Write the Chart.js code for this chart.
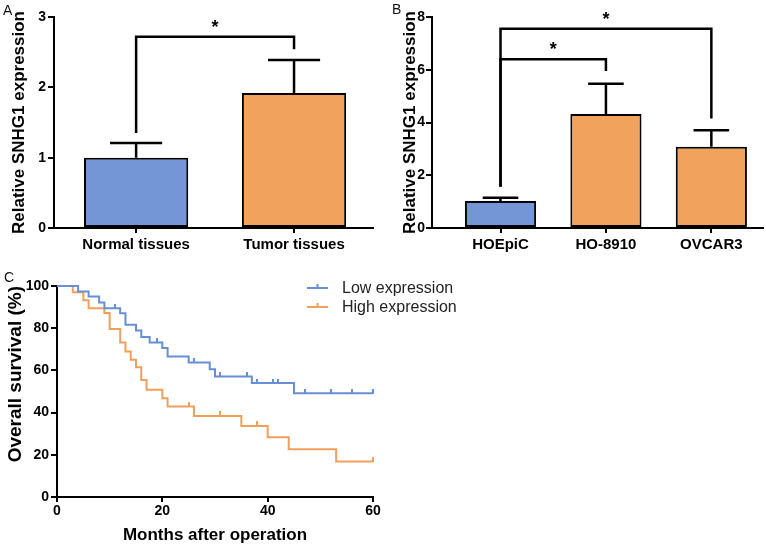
<!DOCTYPE html>
<html><head><meta charset="utf-8">
<script src="https://cdn.jsdelivr.net/npm/chart.js@4/dist/chart.umd.min.js"></script>
<style>
body{margin:0;background:#fff;width:766px;height:548px;position:relative;overflow:hidden;font-family:'Liberation Sans',Arial,sans-serif;}
canvas{position:absolute;}
.lbl{position:absolute;font-size:14px;color:#111;line-height:14px;z-index:2}
</style></head><body>
<canvas id="cA" width="380" height="256" style="left:0;top:0"></canvas>
<canvas id="cB" width="386" height="256" style="left:380px;top:0"></canvas>
<canvas id="cC" width="766" height="290" style="left:0;top:258px"></canvas>
<div class="lbl" style="left:3px;top:3px">A</div>
<div class="lbl" style="left:392px;top:2px">B</div>
<div class="lbl" style="left:4px;top:270px">C</div>
<script>
// ---------- data ----------
const categoriesA = ['Normal tissues', 'Tumor tissues'];
const valuesA = [1.0, 1.92];
const errorsA = [0.21, 0.47];
const bracketFromA = [0];
const bracketToA = [1];
const bracketLevelA = [2.72];
const bracketLeftEndA = [1.35];
const bracketRightEndA = [2.54];

const categoriesB = ['HOEpiC', 'HO-8910', 'OVCAR3'];
const valuesB = [1.02, 4.32, 3.08];
const errorsB = [0.13, 1.15, 0.63];
const bracketFromB = [0, 0];
const bracketToB = [1, 2];
const bracketLevelB = [6.4, 7.55];
const bracketLeftEndB = [1.56, 1.56];
const bracketRightEndB = [5.95, 4.15];

const lowTimes = [0, 4, 6, 8, 9, 12, 13, 15, 16, 17.6, 20, 21, 25, 29, 30, 37, 45, 60];
const lowSurv  = [100, 97.4, 95.0, 92.2, 89.5, 87.1, 81.6, 78.9, 75.8, 73.2, 70.6, 66.6, 63.7, 60.6, 57.1, 54.0, 49.2, 49.2];
const lowCensored = [11, 19, 26, 31, 36, 38, 41, 42, 47, 52, 56, 60];
const highTimes = [0, 3, 5, 6, 9, 10, 12, 13, 14, 15, 16, 17, 20, 21, 26, 35, 40, 44, 53, 60];
const highSurv  = [100, 97.0, 93.2, 89.5, 87.2, 79.6, 73.2, 69.0, 65.0, 61.5, 55.5, 50.8, 46.8, 42.9, 38.4, 33.7, 28.3, 22.6, 16.8, 16.8];
const highCensored = [25, 31, 38, 60];
const seriesNames = ['Low expression', 'High expression'];

// ---------- styles ----------
const FONT = "'Liberation Sans', Arial, sans-serif";
Chart.defaults.font.family = FONT;
Chart.defaults.color = '#000';
const BLUE_BAR = 'rgb(116,150,214)';
const ORANGE_BAR = 'rgb(241,163,94)';
const BLUE_LINE = 'rgb(104,142,214)';
const ORANGE_LINE = 'rgb(240,160,92)';

const errPlugin = {
  id: 'errBars',
  afterDatasetsDraw(chart, args, o) {
    const ctx = chart.ctx, ys = chart.scales.y, xs = chart.scales.x;
    const meta = chart.getDatasetMeta(0);
    ctx.save();
    ctx.strokeStyle = '#000'; ctx.lineWidth = 2.5; ctx.lineCap = 'butt'; ctx.lineJoin = 'miter';
    meta.data.forEach((bar, i) => {
      const yt = ys.getPixelForValue(o.values[i] + o.errors[i]);
      const half = bar.width / 4;
      ctx.beginPath();
      ctx.moveTo(bar.x, bar.y); ctx.lineTo(bar.x, yt);
      ctx.moveTo(bar.x - half, yt); ctx.lineTo(bar.x + half, yt);
      ctx.stroke();
    });
    ctx.fillStyle = '#000';
    ctx.font = 'bold 18px ' + FONT;
    ctx.textAlign = 'center'; ctx.textBaseline = 'alphabetic';
    o.from.forEach((f, k) => {
      const x1 = xs.getPixelForValue(f), x2 = xs.getPixelForValue(o.to[k]);
      const yl = ys.getPixelForValue(o.level[k]);
      ctx.beginPath();
      ctx.moveTo(x1, ys.getPixelForValue(o.leftEnd[k]));
      ctx.lineTo(x1, yl); ctx.lineTo(x2, yl);
      ctx.lineTo(x2, ys.getPixelForValue(o.rightEnd[k]));
      ctx.stroke();
      ctx.fillText('*', (x1 + x2) / 2, yl - 4);
    });
    ctx.restore();
  }
};

function axisGrid(len) {
  return { drawOnChartArea: false, color: '#000', lineWidth: 2, tickLength: len, offset: false };
}

function barChart(id, cats, vals, errs, colors, xmin, xmax, ymax, ystep, yWidth, titlePad, tickPad, padRight, barPct, br) {
  new Chart(document.getElementById(id), {
    type: 'bar',
    data: { datasets: [{
      data: vals.map((v, i) => ({ x: i, y: v })),
      backgroundColor: colors, borderColor: '#000', borderWidth: 2, borderSkipped: false,
      categoryPercentage: 1, barPercentage: barPct
    }]},
    options: {
      responsive: false, animation: false,
      layout: { padding: { top: 17, right: padRight, left: 0, bottom: 0 } },
      plugins: { legend: { display: false }, tooltip: { enabled: false },
        errBars: { values: vals, errors: errs, from: br[0], to: br[1], level: br[2], leftEnd: br[3], rightEnd: br[4] } },
      scales: {
        x: { type: 'linear', min: xmin, max: xmax, offset: false, bounds: 'ticks',
          afterFit: s => { s.height = 28; },
          afterBuildTicks: s => { s.ticks = cats.map((c, i) => ({ value: i })); },
          ticks: { callback: v => cats[v], font: { size: 15, weight: 'bold' }, padding: 3, maxRotation: 0, autoSkip: false },
          grid: axisGrid(5), border: { color: '#000', width: 2 } },
        y: { min: 0, max: ymax,
          afterFit: s => { s.width = yWidth; },
          ticks: { stepSize: ystep, font: { size: 14, weight: 'bold' }, padding: tickPad },
          grid: axisGrid(6), border: { color: '#000', width: 2 },
          title: { display: true, text: 'Relative SNHG1 expression', font: { size: 17, weight: 'bold' }, padding: { top: titlePad, bottom: 0 } } }
      }
    },
    plugins: [errPlugin]
  });
}

barChart('cA', categoriesA, valuesA, errorsA, [BLUE_BAR, ORANGE_BAR], -0.52, 1.5, 3, 1, 54, 9, 2, 7, 0.66,
  [bracketFromA, bracketToA, bracketLevelA, bracketLeftEndA, bracketRightEndA]);
barChart('cB', categoriesB, valuesB, errorsB, [BLUE_BAR, ORANGE_BAR, ORANGE_BAR], -0.65, 2.49, 8, 2, 52, 20, 1, 3, 0.675,
  [bracketFromB, bracketToB, bracketLevelB, bracketLeftEndB, bracketRightEndB]);

// ---------- survival ----------
function tickImg(color) {
  const c = document.createElement('canvas');
  c.width = 2; c.height = 9;
  const g = c.getContext('2d');
  g.fillStyle = color; g.fillRect(0, 0, 2, 5);
  return c;
}
function survAt(times, surv, t) {
  let s = surv[0];
  for (let i = 0; i < times.length; i++) if (times[i] <= t) s = surv[i];
  return s;
}
const kmLegend = {
  id: 'kmLegend',
  afterDraw(chart) {
    const ctx = chart.ctx, a = chart.chartArea;
    const rows = [[seriesNames[0], BLUE_LINE, 2], [seriesNames[1], ORANGE_LINE, 21]];
    ctx.save();
    ctx.font = '16px ' + FONT;
    ctx.textBaseline = 'middle'; ctx.textAlign = 'left';
    rows.forEach(([name, col, dy]) => {
      const y = a.top + dy, x0 = a.right - 66;
      ctx.strokeStyle = col; ctx.lineWidth = 2;
      ctx.beginPath(); ctx.moveTo(x0, y); ctx.lineTo(x0 + 21, y);
      ctx.moveTo(x0 + 10.5, y); ctx.lineTo(x0 + 10.5, y - 4); ctx.stroke();
      ctx.fillStyle = '#222';
      ctx.fillText(name, x0 + 35, y + 1);
    });
    ctx.restore();
  }
};

new Chart(document.getElementById('cC'), {
  type: 'line',
  data: { datasets: [
    { data: lowTimes.map((t, i) => ({ x: t, y: lowSurv[i] })), borderColor: BLUE_LINE, borderWidth: 2,
      stepped: 'before', pointRadius: 0, fill: false, clip: false },
    { data: highTimes.map((t, i) => ({ x: t, y: highSurv[i] })), borderColor: ORANGE_LINE, borderWidth: 2,
      stepped: 'before', pointRadius: 0, fill: false, clip: false },
    { data: lowCensored.map(t => ({ x: t, y: survAt(lowTimes, lowSurv, t) })), showLine: false,
      pointStyle: tickImg(BLUE_LINE), pointRadius: 3, clip: false },
    { data: highCensored.map(t => ({ x: t, y: survAt(highTimes, highSurv, t) })), showLine: false,
      pointStyle: tickImg(ORANGE_LINE), pointRadius: 3, clip: false }
  ]},
  options: {
    responsive: false, animation: false,
    layout: { padding: { top: 28, right: 393, left: 0, bottom: 0 } },
    plugins: { legend: { display: false }, tooltip: { enabled: false } },
    scales: {
      x: { type: 'linear', min: 0, max: 60,
        afterFit: s => { s.height = 51; },
        ticks: { stepSize: 20, font: { size: 14, weight: 'bold' }, padding: 1, maxRotation: 0 },
        grid: axisGrid(5), border: { color: '#000', width: 2 },
        title: { display: true, text: 'Months after operation', font: { size: 17, weight: 'bold' }, padding: { top: 0, bottom: 2 } } },
      y: { min: 0, max: 100,
        afterFit: s => { s.width = 57; },
        ticks: { stepSize: 20, font: { size: 14, weight: 'bold' }, padding: 2 },
        grid: axisGrid(6), border: { color: '#000', width: 2 },
        title: { display: true, text: 'Overall survival (%)', align: 'end', font: { size: 19, weight: 'bold' }, padding: { top: 4, bottom: 0 } } }
    }
  },
  plugins: [kmLegend]
});
</script>
</body></html>
